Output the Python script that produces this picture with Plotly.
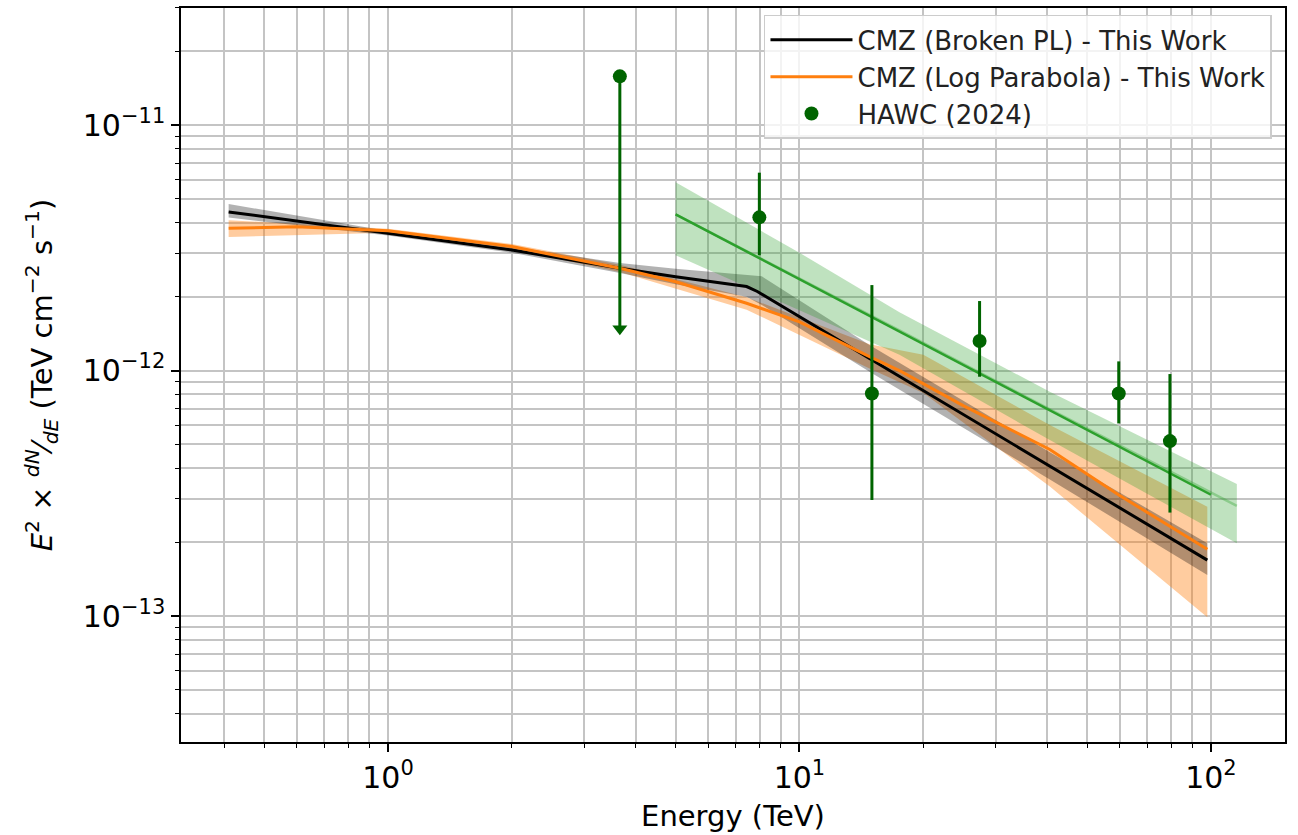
import plotly.graph_objects as go

# ---------------- data ----------------
# Broken power law model (black) and its uncertainty band (grey)
bpl_E = [0.41, 1.0, 2.0, 3.66, 5.0, 7.44, 7.9, 14.8, 40.6, 98.0]
bpl_F = [4.43e-12, 3.62e-12, 3.10e-12, 2.61e-12, 2.41e-12, 2.20e-12, 2.10e-12, 1.12e-12, 4.08e-13, 1.69e-13]
bpl_band_E = [0.41, 1.0, 2.0, 3.66, 5.0, 7.44, 8.1, 14.8, 40.6, 98.0]
bpl_band_hi = [4.77e-12, 3.70e-12, 3.20e-12, 2.74e-12, 2.60e-12, 2.45e-12, 2.42e-12, 1.27e-12, 4.65e-13, 1.98e-13]
bpl_band_lo = [4.20e-12, 3.55e-12, 3.02e-12, 2.50e-12, 2.25e-12, 2.00e-12, 1.85e-12, 0.99e-12, 3.60e-13, 1.47e-13]

# Log parabola model (orange) and its band
lp_E = [0.41, 0.6, 1.0, 2.0, 3.66, 5.0, 7.44, 10.0, 14.8, 17.5, 25.0, 40.6, 60.0, 98.0]
lp_F = [3.80e-12, 3.85e-12, 3.71e-12, 3.20e-12, 2.61e-12, 2.30e-12, 1.88e-12, 1.58e-12, 1.14e-12, 1.00e-12, 7.2e-13, 4.77e-13, 3.1e-13, 1.87e-13]
lp_band_E = [0.41, 1.0, 2.0, 3.66, 7.44, 14.8, 20.0, 40.6, 98.0]
lp_band_hi = [4.10e-12, 3.78e-12, 3.28e-12, 2.70e-12, 1.99e-12, 1.28e-12, 1.16e-12, 6.0e-13, 2.79e-13]
lp_band_lo = [3.50e-12, 3.64e-12, 3.12e-12, 2.52e-12, 1.77e-12, 1.02e-12, 8.1e-13, 3.37e-13, 9.9e-14]

# HAWC (2024) power law fit and band
hawc_fit_E = [5.0, 100.0]
hawc_fit_F = [4.33e-12, 3.12e-13]
hawc_band_E = [5.0, 10.0, 17.5, 40.6, 115.6]
hawc_band_mid = [4.33e-12, 2.37e-12, 1.46e-12, 6.95e-13, 2.81e-13]
hawc_band_hi = [5.85e-12, 3.02e-12, 1.73e-12, 8.2e-13, 3.45e-13]
hawc_band_lo = [2.95e-12, 1.76e-12, 1.16e-12, 5.21e-13, 1.98e-13]

# HAWC (2024) flux points
hawc_E = [7.99, 15.0, 27.4, 59.7, 79.5]
hawc_F = [4.21e-12, 8.07e-13, 1.32e-12, 8.07e-13, 5.16e-13]
hawc_hi = [6.40e-12, 2.23e-12, 1.92e-12, 1.09e-12, 9.68e-13]
hawc_lo = [2.95e-12, 2.97e-13, 9.44e-13, 6.09e-13, 2.64e-13]

# HAWC upper limit
ul_E = [3.66]
ul_F = [1.58e-11]
ul_to = [1.48e-12]

# axis ticks
x_tickvals = [1, 10, 100]
x_ticktext = ["10<sup>0</sup>", "10<sup>1</sup>", "10<sup>2</sup>"]
y_tickvals = [1e-13, 1e-12, 1e-11]
y_ticktext = ["10<sup>\u221213</sup>", "10<sup>\u221212</sup>", "10<sup>\u221211</sup>"]
x_minor = [m * 10.0 ** k for k in (-1, 0, 1, 2) for m in range(2, 10)]
y_minor = [m * 10.0 ** k for k in (-14, -13, -12, -11) for m in range(2, 10)]

FONT = "DejaVu Sans"
GRID = "#c4c4c4"

fig = go.Figure()


def band(E, hi, lo, color, name):
    fig.add_trace(go.Scatter(
        x=list(E) + list(E)[::-1], y=list(hi) + list(lo)[::-1],
        fill="toself", fillcolor=color, line=dict(width=0),
        mode="lines", hoverinfo="skip", showlegend=False, name=name))


band(lp_band_E, lp_band_hi, lp_band_lo, "rgba(255,127,14,0.4)", "lp band")
band(bpl_band_E, bpl_band_hi, bpl_band_lo, "rgba(0,0,0,0.3)", "bpl band")
band(hawc_band_E, hawc_band_hi, hawc_band_lo, "rgba(44,160,44,0.3)", "hawc band")

fig.add_trace(go.Scatter(x=hawc_band_E, y=hawc_band_mid, mode="lines",
                         line=dict(color="rgba(44,160,44,0.35)", width=2.5),
                         showlegend=False, hoverinfo="skip"))

fig.add_trace(go.Scatter(x=bpl_E, y=bpl_F, mode="lines",
                         line=dict(color="black", width=3),
                         name="CMZ (Broken PL) - This Work", legendrank=1))
fig.add_trace(go.Scatter(x=lp_E, y=lp_F, mode="lines",
                         line=dict(color="#ff7f0e", width=3),
                         name="CMZ (Log Parabola) - This Work", legendrank=2))
fig.add_trace(go.Scatter(x=hawc_fit_E, y=hawc_fit_F, mode="lines",
                         line=dict(color="#2ca02c", width=2.5),
                         showlegend=False))

fig.add_trace(go.Scatter(
    x=hawc_E, y=hawc_F, mode="markers",
    marker=dict(color="#006400", size=14),
    error_y=dict(type="data", symmetric=False,
                 array=[h - f for h, f in zip(hawc_hi, hawc_F)],
                 arrayminus=[f - l for f, l in zip(hawc_F, hawc_lo)],
                 width=0, thickness=3, color="#006400"),
    name="HAWC (2024)", legendrank=3))

fig.add_trace(go.Scatter(
    x=ul_E, y=ul_F, mode="markers",
    marker=dict(color="#006400", size=14),
    error_y=dict(type="data", symmetric=False, array=[0],
                 arrayminus=[f - t for f, t in zip(ul_F, ul_to)],
                 width=0, thickness=3, color="#006400"),
    showlegend=False))
fig.add_trace(go.Scatter(
    x=ul_E, y=ul_to, mode="markers",
    marker=dict(color="#006400", size=13, symbol="triangle-down"),
    showlegend=False))

axis_common = dict(
    type="log", showline=True, linecolor="black", linewidth=1.5, mirror=True,
    ticks="outside", ticklen=8, tickwidth=1.5, tickcolor="black",
    showgrid=True, gridcolor=GRID, gridwidth=1.6, zeroline=False,
    tickfont=dict(family=FONT, size=30, color="black"),
    tickmode="array",
)

fig.update_xaxes(
    **axis_common, range=[-0.503, 2.180],
    tickvals=x_tickvals, ticktext=x_ticktext,
    minor=dict(tickmode="array", tickvals=x_minor, ticks="outside", ticklen=4.5,
               tickwidth=1, tickcolor="black", showgrid=True, gridcolor=GRID, gridwidth=1.6),
    title=dict(text="Energy (TeV)", font=dict(family=FONT, size=29, color="black"), standoff=12),
)
fig.update_yaxes(
    **axis_common, range=[-13.513, -10.523],
    tickvals=y_tickvals, ticktext=y_ticktext,
    minor=dict(tickmode="array", tickvals=y_minor, ticks="outside", ticklen=4.5,
               tickwidth=1, tickcolor="black", showgrid=True, gridcolor=GRID, gridwidth=1.6),
    title=dict(text="<i>E</i><sup>2</sup> \u00d7 <sup><i>dN</i></sup>\u2044<sub><i>dE</i></sub> (TeV cm<sup>\u22122</sup> s<sup>\u22121</sup>)",
               font=dict(family=FONT, size=29, color="black"), standoff=22),
)

fig.update_layout(
    width=1298, height=835,
    margin=dict(l=181, r=13, t=8, b=93, autoexpand=False),
    plot_bgcolor="white", paper_bgcolor="white",
    font=dict(family=FONT, color="black"),
    legend=dict(x=0.9882, y=0.9905, xanchor="right", yanchor="top",
                bgcolor="rgba(255,255,255,0.8)", bordercolor="#cccccc", borderwidth=1.5,
                font=dict(family=FONT, size=26, color="#222222"), itemwidth=82,
                tracegroupgap=0),
    showlegend=True,
)

fig.write_html("out.html")
